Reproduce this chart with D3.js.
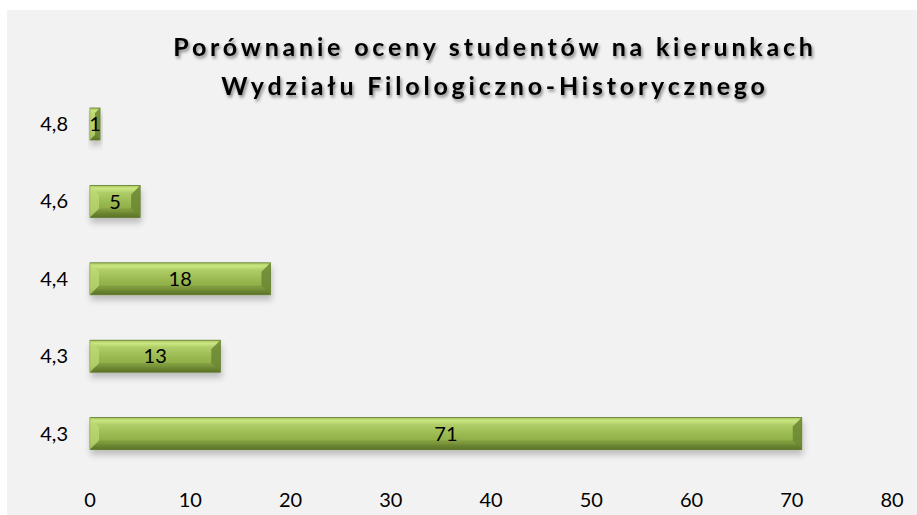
<!DOCTYPE html>
<html>
<head>
<meta charset="utf-8">
<script src="https://cdn.jsdelivr.net/npm/d3@7"></script>
<style>
  body { margin: 0; background: #fff; }
  text { font-family: Lato, "Open Sans", sans-serif; }
</style>
</head>
<body>
<div id="vis"></div>
<script>
const categories = ["4,8", "4,6", "4,4", "4,3", "4,3 "];
const values = [1, 5, 18, 13, 71];
const xTicks = [0, 10, 20, 30, 40, 50, 60, 70, 80];
const titleLines = ["Porównanie oceny studentów na kierunkach", "Wydziału Filologiczno-Historycznego"];

const FRAME_WIDTH = 917;
const FRAME_HEIGHT = 515;

const svg = d3.select("#vis")
  .append("svg")
  .attr("width", FRAME_WIDTH)
  .attr("height", FRAME_HEIGHT);

const defs = svg.append("defs");

// bar gradient (top light band, bottom dark)
const grad = defs.append("linearGradient")
  .attr("id", "barGrad")
  .attr("x1", 0).attr("y1", 0).attr("x2", 0).attr("y2", 1);
grad.append("stop").attr("offset", "0%").attr("stop-color", "#a9c85e");
grad.append("stop").attr("offset", "10%").attr("stop-color", "#cbe683");
grad.append("stop").attr("offset", "22%").attr("stop-color", "#b0ce68");
grad.append("stop").attr("offset", "50%").attr("stop-color", "#9bbb52");
grad.append("stop").attr("offset", "78%").attr("stop-color", "#8eab46");
grad.append("stop").attr("offset", "88%").attr("stop-color", "#718c36");
grad.append("stop").attr("offset", "100%").attr("stop-color", "#5c7429");

const shadow = defs.append("filter").attr("id", "barShadow")
  .attr("x", "-10%").attr("y", "-20%").attr("width", "130%").attr("height", "170%");
shadow.append("feDropShadow")
  .attr("dx", 1).attr("dy", 5).attr("stdDeviation", 3)
  .attr("flood-color", "#000").attr("flood-opacity", 0.22);

const tShadow = defs.append("filter").attr("id", "titleShadow")
  .attr("x", "-5%").attr("y", "-30%").attr("width", "110%").attr("height", "170%");
tShadow.append("feDropShadow")
  .attr("dx", 1.5).attr("dy", 2.5).attr("stdDeviation", 1.6)
  .attr("flood-color", "#000").attr("flood-opacity", 0.45);

// chart panel
svg.append("rect")
  .attr("x", 7).attr("y", 10)
  .attr("width", FRAME_WIDTH - 7).attr("height", FRAME_HEIGHT - 10)
  .attr("fill", "#f2f2f2");

// title
svg.append("g")
  .attr("filter", "url(#titleShadow)")
  .selectAll("text")
  .data(titleLines)
  .enter()
  .append("text")
  .attr("x", 495)
  .attr("y", (d, i) => 56 + i * 39)
  .attr("text-anchor", "middle")
  .attr("font-size", "25px")
  .attr("font-weight", "bold")
  .attr("letter-spacing", "3.8px")
  .attr("fill", "#000")
  .text(d => d);

const xScale = d3.scaleLinear()
  .domain([0, 80])
  .range([90, 892]);

const yScale = d3.scaleBand()
  .domain(categories)
  .range([85.3, 472.3])
  .paddingInner(0.587)
  .paddingOuter(0.2935);

// x tick labels
svg.append("g")
  .selectAll("text")
  .data(xTicks)
  .enter()
  .append("text")
  .attr("x", d => xScale(d))
  .attr("y", 507)
  .attr("text-anchor", "middle")
  .attr("font-size", "20px")
  .attr("fill", "#000")
  .text(d => d);

// y labels
svg.append("g")
  .selectAll("text")
  .data(categories)
  .enter()
  .append("text")
  .attr("x", 68)
  .attr("y", d => yScale(d) + yScale.bandwidth() / 2)
  .attr("dy", "0.35em")
  .attr("text-anchor", "end")
  .attr("font-size", "20px")
  .attr("fill", "#000")
  .text(d => d.trim());

// bars
const bars = svg.append("g")
  .selectAll("g")
  .data(values)
  .enter()
  .append("g")
  .attr("filter", "url(#barShadow)");

const bw = yScale.bandwidth();

bars.append("rect")
  .attr("x", xScale(0))
  .attr("y", (d, i) => yScale(categories[i]))
  .attr("width", d => xScale(d) - xScale(0))
  .attr("height", bw)
  .attr("fill", "url(#barGrad)")
  .attr("stroke", "#5f7a2a")
  .attr("stroke-width", 0.8);

// bevel: left end lighter wedge, right end darker wedge
bars.append("path")
  .attr("d", (d, i) => {
    const x0 = xScale(0), x1 = xScale(d), y0 = yScale(categories[i]);
    const b = Math.min(9, (x1 - x0) / 2);
    return `M${x0},${y0} L${x0 + b},${y0 + b} L${x0 + b},${y0 + bw - b} L${x0},${y0 + bw} Z`;
  })
  .attr("fill", "#c0dc78")
  .attr("opacity", 0.7);

bars.append("path")
  .attr("d", (d, i) => {
    const x0 = xScale(0), x1 = xScale(d), y0 = yScale(categories[i]);
    const b = Math.min(9, (x1 - x0) / 2);
    return `M${x1},${y0} L${x1 - b},${y0 + b} L${x1 - b},${y0 + bw - b} L${x1},${y0 + bw} Z`;
  })
  .attr("fill", "#6a8632")
  .attr("opacity", 0.85);

bars.append("path")
  .attr("d", (d, i) => {
    const x0 = xScale(0), x1 = xScale(d), y0 = yScale(categories[i]);
    const b = Math.min(9, (x1 - x0) / 2);
    return `M${x0},${y0 + bw} L${x0 + b},${y0 + bw - b} L${x1 - b},${y0 + bw - b} L${x1},${y0 + bw} Z`;
  })
  .attr("fill", "#5c7429")
  .attr("opacity", 0.3);

// value labels
svg.append("g")
  .selectAll("text")
  .data(values)
  .enter()
  .append("text")
  .attr("x", d => (xScale(0) + xScale(d)) / 2)
  .attr("y", (d, i) => yScale(categories[i]) + bw / 2)
  .attr("dy", "0.36em")
  .attr("text-anchor", "middle")
  .attr("font-size", "20px")
  .attr("fill", "#000")
  .text(d => d);
</script>
</body>
</html>
